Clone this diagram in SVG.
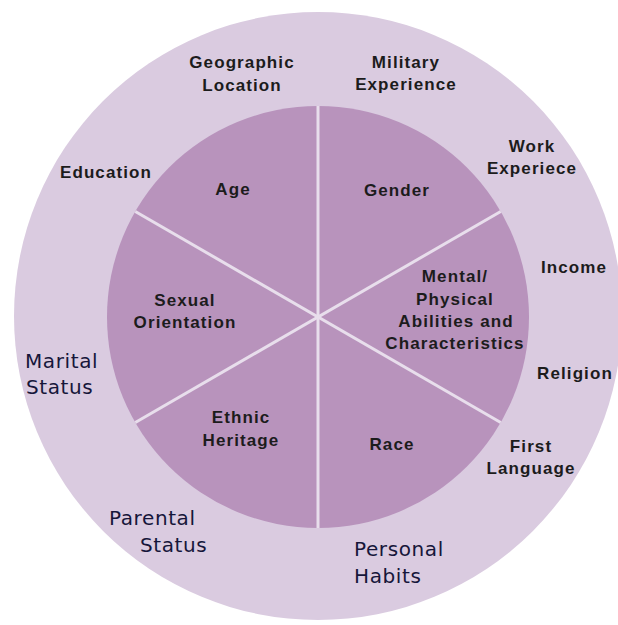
<svg xmlns="http://www.w3.org/2000/svg" width="618" height="625" viewBox="0 0 618 625">
<style>
.b{font-family:"Liberation Sans",Arial,sans-serif;font-weight:bold;font-size:17px;letter-spacing:1.1px;fill:#1c1c1c;text-anchor:middle}
.n{font-family:"DejaVu Sans",Verdana,sans-serif;font-size:20px;letter-spacing:0.6px;fill:#16163a}
.sp{stroke:#e8deec;stroke-width:3;fill:none}
</style>
<rect width="618" height="625" fill="#ffffff"/>
<g id="outer-ring"><circle cx="318" cy="316" r="304" fill="#dacbe0"/></g>
<g id="inner-circle"><circle cx="318" cy="317" r="211" fill="#b893bc"/></g>
<g id="connectors">
<line class="sp" x1="318" y1="106" x2="318" y2="528"/>
<line class="sp" x1="135.3" y1="211.5" x2="500.7" y2="422.5"/>
<line class="sp" x1="135.3" y1="422.5" x2="500.7" y2="211.5"/>
</g>
<g id="age"><text class="b" x="233" y="195">Age</text></g>
<g id="gender"><text class="b" x="397" y="196">Gender</text></g>
<g id="sexual-orientation"><text class="b" x="185" y="306">Sexual</text><text class="b" x="185" y="328">Orientation</text></g>
<g id="mental-physical"><text class="b" x="455" y="282">Mental/</text><text class="b" x="455" y="304.5">Physical</text><text class="b" x="456" y="326.5">Abilities and</text><text class="b" x="455" y="349">Characteristics</text></g>
<g id="ethnic-heritage"><text class="b" x="241" y="423">Ethnic</text><text class="b" x="241" y="445.5">Heritage</text></g>
<g id="race"><text class="b" x="392" y="449.5">Race</text></g>
<g id="geographic-location"><text class="b" x="242" y="68">Geographic</text><text class="b" x="242" y="91">Location</text></g>
<g id="military-experience"><text class="b" x="406" y="68">Military</text><text class="b" x="406" y="90">Experience</text></g>
<g id="work-experience"><text class="b" x="532" y="152">Work</text><text class="b" x="532" y="173.5">Experiece</text></g>
<g id="education"><text class="b" x="106" y="178">Education</text></g>
<g id="income"><text class="b" x="574" y="273">Income</text></g>
<g id="religion"><text class="b" x="575" y="378.5">Religion</text></g>
<g id="first-language"><text class="b" x="531" y="452">First</text><text class="b" x="531" y="474">Language</text></g>
<g id="marital-status"><text class="n" x="25" y="368">Marital</text><text class="n" x="26" y="394">Status</text></g>
<g id="parental-status"><text class="n" x="109" y="524.5">Parental</text><text class="n" x="140" y="552">Status</text></g>
<g id="personal-habits"><text class="n" x="354" y="556">Personal</text><text class="n" x="354" y="582.5">Habits</text></g>
</svg>
